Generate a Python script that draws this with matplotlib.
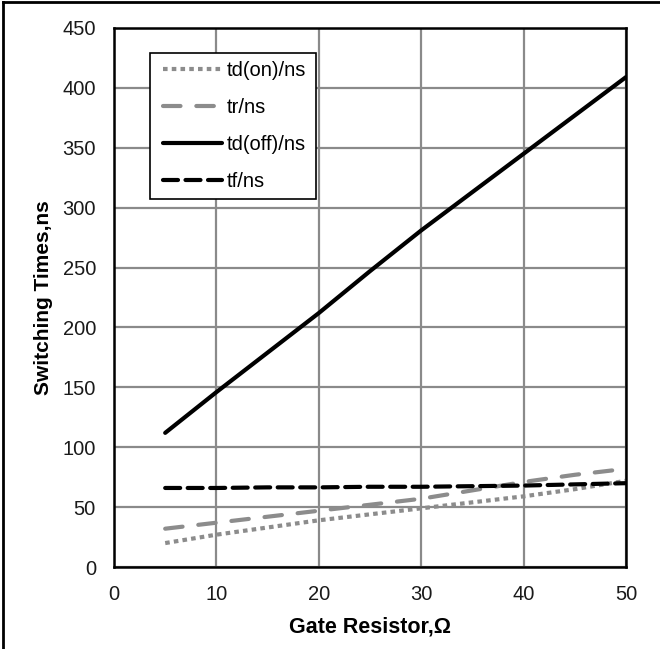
import matplotlib
matplotlib.use("Agg")
import matplotlib.pyplot as plt
from matplotlib.lines import Line2D
from matplotlib.patches import Rectangle
from matplotlib.transforms import IdentityTransform

plt.rcParams['font.family'] = ['Liberation Sans', 'DejaVu Sans']

# Gate resistance (ohm)
rg = [5, 10, 15, 20, 25, 30, 35, 40, 45, 50]

# Switching times (ns)
td_on = [20, 27, 33, 39, 44, 49, 54, 59, 65, 72]
t_r = [32, 37, 42, 47, 52, 57, 64, 71, 77, 82]
td_off = [112, 146, 179, 212, 247, 281, 313, 345, 377, 409]
t_f = [66, 66, 66.5, 66.5, 67, 67, 67.5, 68, 69, 70]

x_ticks = [0, 10, 20, 30, 40, 50]
y_ticks = [0, 50, 100, 150, 200, 250, 300, 350, 400, 450]

gray = '#8c8c8c'

fig = plt.figure(figsize=(6.6, 6.49), dpi=100)
ax = fig.add_axes([0.1727, 0.1263, 0.7758, 0.8306])

ax.plot(rg, td_on, color=gray, lw=3, dashes=(1.1, 1.0), label='td(on)/ns')
ax.plot(rg, t_r, color=gray, lw=3, dashes=(4.2, 3.8), dash_capstyle='round',
        label='tr/ns')
ax.plot(rg, td_off, color='black', lw=3, solid_capstyle='round',
        label='td(off)/ns')
ax.plot(rg, t_f, color='black', lw=3, dashes=(3.6, 1.8), dash_capstyle='round',
        label='tf/ns')

ax.set_xlim(0, 50)
ax.set_ylim(0, 450)
ax.set_xticks(x_ticks)
ax.set_yticks(y_ticks)
ax.grid(True, color='#8a8a8a', lw=1.6)
ax.set_axisbelow(True)
for s in ax.spines.values():
    s.set_color('black')
    s.set_linewidth(1.8)
    s.set_zorder(5)

ax.tick_params(axis='both', length=0, labelsize=14.5, labelcolor='#1a1a1a')
ax.tick_params(axis='y', pad=13)
ax.tick_params(axis='x', pad=13)

ax.set_xlabel('Gate Resistor,Ω', fontsize=15.5, fontweight='bold', labelpad=9)
ax.set_ylabel('Switching Times,ns', fontsize=15, fontweight='bold', labelpad=7)

leg = ax.legend(loc='upper left', bbox_to_anchor=(0.080, 0.953), frameon=False,
                fontsize=14.5, handlelength=2.93, handletextpad=0.25,
                labelspacing=0.89, borderpad=0.4, borderaxespad=0)
leg.set_zorder(6)

# Legend frame: a little wider than the legend content on the left
fig.canvas.draw()
bb = leg.get_window_extent()
frame = Rectangle((bb.x0 - 5, bb.y0), bb.width + 7, bb.height,
                  transform=IdentityTransform(), facecolor='white',
                  edgecolor='black', lw=1.2, zorder=5.5, clip_on=False)
ax.add_artist(frame)

# Outer border along the left and top edges
fig.add_artist(Line2D([0.0045, 0.0045], [0, 0.997], transform=fig.transFigure,
                      color='black', lw=2))
fig.add_artist(Line2D([0.0045, 1], [0.997, 0.997], transform=fig.transFigure,
                      color='black', lw=2))

fig.savefig('out.png', dpi=100)
